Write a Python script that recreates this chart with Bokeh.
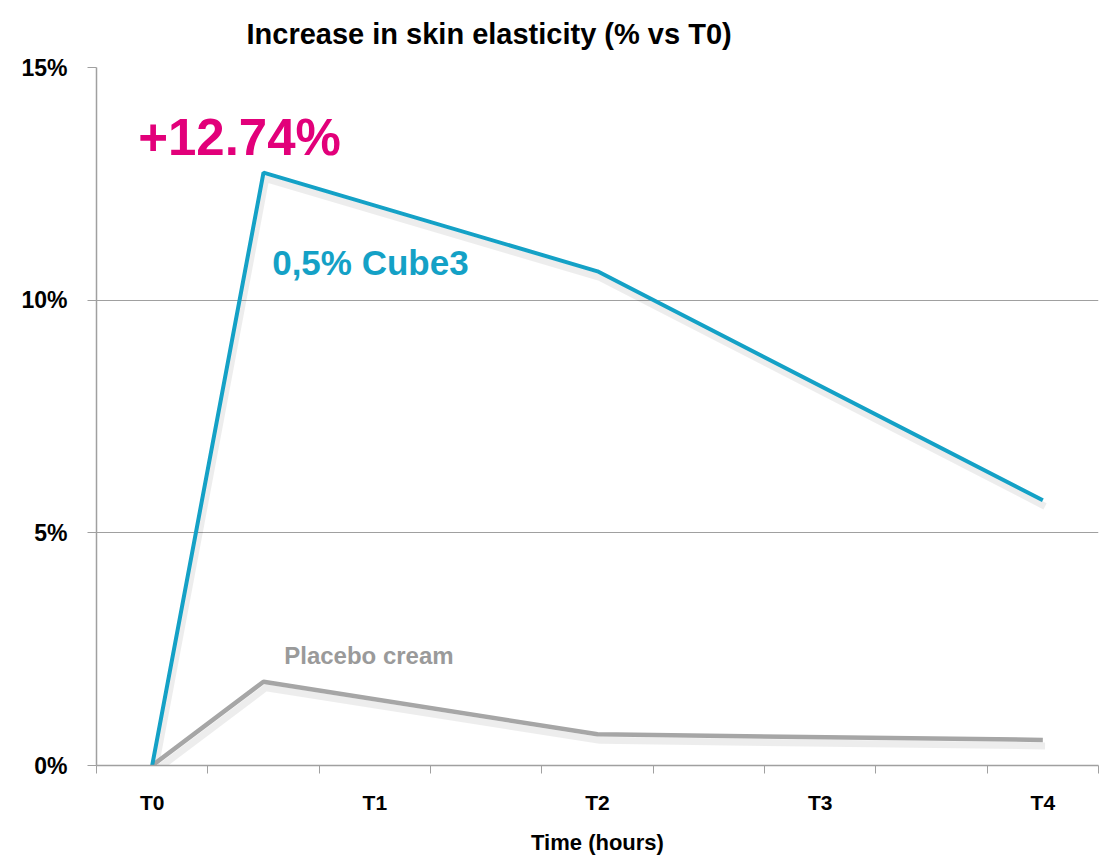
from bokeh.plotting import figure
from bokeh.models import FixedTicker, Range1d, Label
from bokeh.embed import file_html
from bokeh.resources import INLINE

# Data
time_hours = [0, 0.5, 2, 4]
cube3 = [0, 12.74, 10.62, 5.70]
placebo = [0, 1.80, 0.67, 0.55]
x_tick_labels = ["T0", "T1", "T2", "T3", "T4"]
y_ticks = [0, 5, 10, 15]
title_text = "Increase in skin elasticity (% vs T0)"

FONT = "Liberation Sans"
TEAL = "#14a1c6"
GRAY = "#a6a6a6"
MAGENTA = "#e2007a"

p = figure(width=1104, height=857, output_backend="svg", toolbar_location=None,
           x_range=Range1d(-0.25, 4.25), y_range=Range1d(0, 15),
           min_border_left=96, min_border_right=6, min_border_top=67, min_border_bottom=91)
p.outline_line_color = None
p.background_fill_color = "white"
p.border_fill_color = "white"

# shadows
p.line([t + 0.01 for t in time_hours], [v - 0.13 for v in cube3], line_color="#000000", line_alpha=0.07, line_width=7)
p.line([t + 0.01 for t in time_hours], [v - 0.13 for v in placebo], line_color="#000000", line_alpha=0.07, line_width=7)

p.line(time_hours, placebo, line_color=GRAY, line_width=4.5)
p.line(time_hours, cube3, line_color=TEAL, line_width=4)

# x axis
xa = p.xaxis[0]
xa.ticker = FixedTicker(ticks=[0, 1, 2, 3, 4], minor_ticks=[-0.25 + 0.5 * k for k in range(10)])
xa.major_label_overrides = {i: lab for i, lab in enumerate(x_tick_labels)}
xa.major_tick_out = 0
xa.major_tick_in = 0
xa.minor_tick_out = 8
xa.minor_tick_in = 0
xa.minor_tick_line_color = "#a0a0a0"
xa.axis_line_color = "#a0a0a0"
xa.axis_line_width = 1.5
xa.major_label_text_font = FONT
xa.major_label_text_font_style = "bold"
xa.major_label_text_font_size = "21px"
xa.major_label_text_color = "black"
xa.major_label_standoff = 17
xa.axis_label = "Time (hours)"
xa.axis_label_text_font = FONT
xa.axis_label_text_font_style = "bold"
xa.axis_label_text_font_size = "22px"
xa.axis_label_text_color = "black"
xa.axis_label_standoff = 13

# y axis
ya = p.yaxis[0]
ya.ticker = FixedTicker(ticks=y_ticks)
ya.major_label_overrides = {v: f"{v}%" for v in y_ticks}
ya.major_tick_out = 9
ya.major_tick_in = 0
ya.minor_tick_out = 0
ya.minor_tick_in = 0
ya.major_tick_line_color = "#a0a0a0"
ya.axis_line_color = "#a0a0a0"
ya.axis_line_width = 1.5
ya.major_label_text_font = FONT
ya.major_label_text_font_style = "bold"
ya.major_label_text_font_size = "23px"
ya.major_label_text_color = "black"
ya.major_label_standoff = 20

p.xgrid.grid_line_color = None
p.ygrid.grid_line_color = "#a0a0a0"
p.ygrid.grid_line_width = 1

# title
p.title.text = title_text
p.title.text_font = FONT
p.title.text_font_style = "bold"
p.title.text_font_size = "29px"
p.title.text_color = "black"
p.title.vertical_align = "top"
p.title.align = "left"
p.title.offset = 150
p.title.standoff = 31

# annotations
p.add_layout(Label(x=-0.063, y=13.50, text="+12.74%", text_font=FONT, text_font_style="bold",
                   text_font_size="51px", text_color=MAGENTA, text_baseline="alphabetic"))
p.add_layout(Label(x=0.539, y=10.80, text="0,5% Cube3", text_font=FONT, text_font_style="bold",
                   text_font_size="35px", text_color=TEAL, text_baseline="alphabetic"))
p.add_layout(Label(x=0.593, y=2.36, text="Placebo cream", text_font=FONT, text_font_style="bold",
                   text_font_size="24px", text_color="#9a9a9a", text_baseline="alphabetic"))

open("out.html", "w").write(file_html(p, INLINE))
